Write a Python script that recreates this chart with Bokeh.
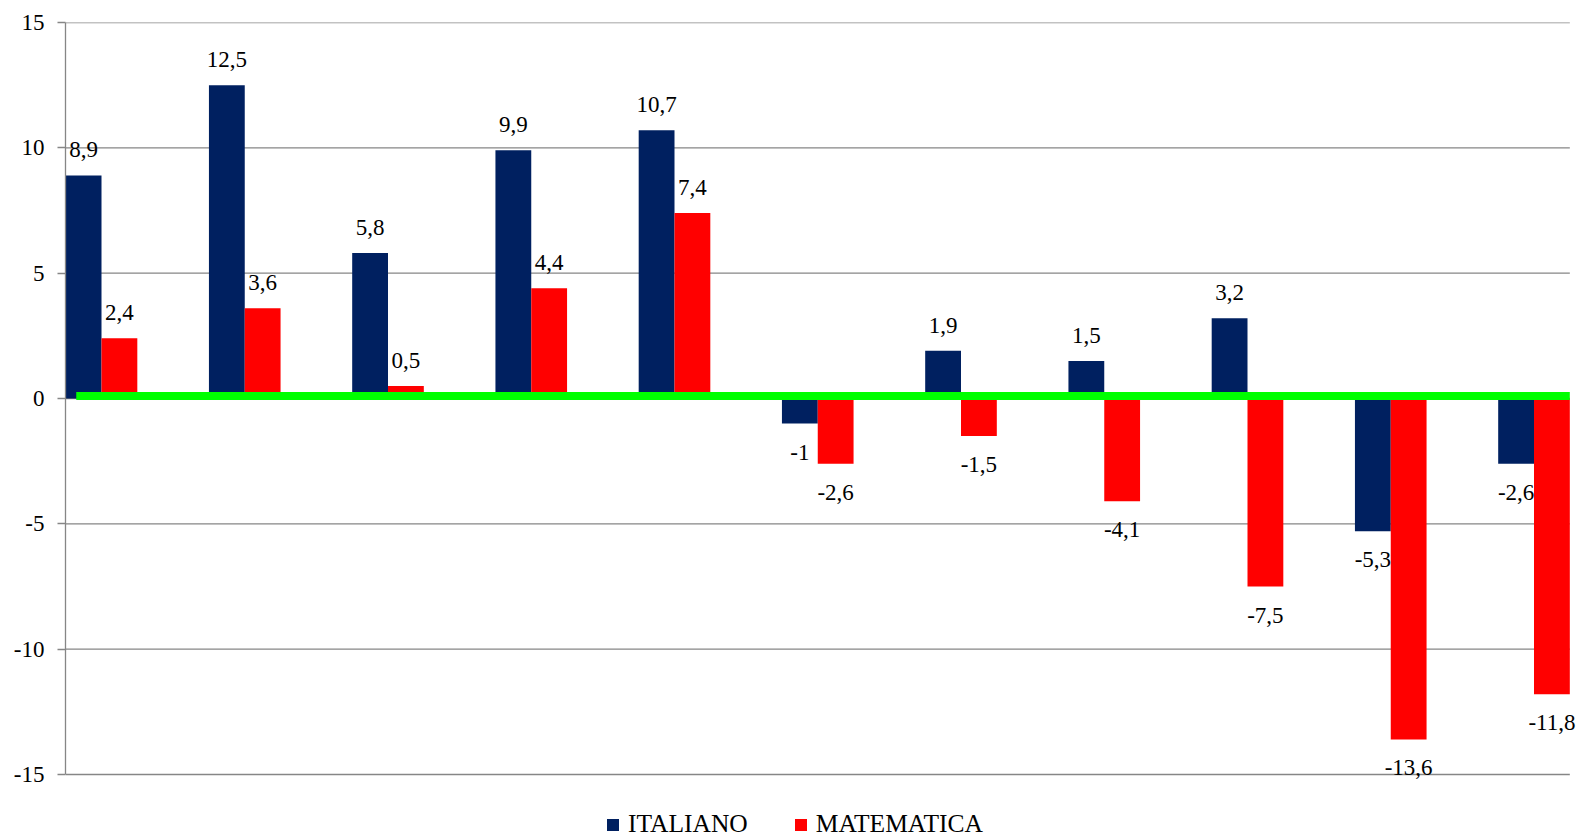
from bokeh.plotting import figure
from bokeh.models import ColumnDataSource, LabelSet, FixedTicker, Legend, LegendItem, Range1d
from bokeh.transform import dodge
from bokeh.embed import file_html
from bokeh.resources import INLINE

# ---- data ----
categories = list(range(11))
italiano = [8.9, 12.5, 5.8, 9.9, 10.7, -1.0, 1.9, 1.5, 3.2, -5.3, -2.6]
matematica = [2.4, 3.6, 0.5, 4.4, 7.4, -2.6, -1.5, -4.1, -7.5, -13.6, -11.8]
series_names = ["ITALIANO", "MATEMATICA"]
y_ticks = [-15, -10, -5, 0, 5, 10, 15]
zero_level = 0.1

BLUE = "#002060"
RED = "#FF0000"
GREEN = "#00FF00"
GRID = "#868686"
FONT = "Liberation Serif"

# ---- layout ----
W, H = 1585, 839
LEFT, TOP = 65, 22
FW, FH = W - LEFT, H - TOP
PX_PER_CAT = 143.25
PX_PER_UNIT = 752 / 30.0
x_start = -36 / PX_PER_CAT
x_end = x_start + FW / PX_PER_CAT
y_end = y_ticks[-1]
y_start = y_end - FH / PX_PER_UNIT


def fmt(v):
    return f"{v:g}".replace(".", ",")


def make_source(vals):
    return ColumnDataSource(dict(
        x=categories,
        top=vals,
        label=[fmt(v) for v in vals],
        off=[18 if v >= 0 else -36 for v in vals],
    ))


src_it = make_source(italiano)
src_ma = make_source(matematica)

p = figure(
    frame_width=FW, frame_height=FH,
    min_border_left=LEFT, min_border_right=0, min_border_top=TOP, min_border_bottom=0,
    x_range=Range1d(x_start, x_end), y_range=Range1d(y_start, y_end),
    output_backend="svg", toolbar_location=None,
)
p.outline_line_color = None
p.background_fill_color = "white"
p.border_fill_color = "white"

bar_w = 0.25
x_right = categories[-1] + bar_w

# horizontal grid lines (ending at the last bar)
p.segment(x0=x_start, x1=x_right, y0=y_ticks, y1=y_ticks, line_color=GRID, line_width=1.3)

r_it = p.vbar(x=dodge("x", -bar_w / 2), top="top", bottom=0, width=bar_w, source=src_it,
              fill_color=BLUE, line_color=None)
r_ma = p.vbar(x=dodge("x", bar_w / 2), top="top", bottom=0, width=bar_w, source=src_ma,
              fill_color=RED, line_color=None)

# green zero line
p.segment(x0=[x_start + 0.075], x1=[x_right], y0=[zero_level], y1=[zero_level],
          line_color=GREEN, line_width=8)

for src, dx in ((src_it, -bar_w / 2), (src_ma, bar_w / 2)):
    p.add_layout(LabelSet(
        x=dodge("x", dx), y="top", text="label", y_offset="off", source=src,
        text_align="center", text_baseline="alphabetic",
        text_font=FONT, text_font_size="23px", text_color="black",
    ))

# axes & grid
p.xaxis.visible = False
p.xgrid.visible = False
p.ygrid.visible = False
p.yaxis.ticker = FixedTicker(ticks=y_ticks)
p.yaxis.bounds = (y_ticks[0], y_ticks[-1])
p.yaxis.major_label_overrides = {t: str(t) for t in y_ticks}
p.yaxis.axis_line_color = GRID
p.yaxis.axis_line_width = 1.3
p.yaxis.major_tick_line_color = GRID
p.yaxis.major_tick_line_width = 1.3
p.yaxis.major_tick_out = 8
p.yaxis.major_tick_in = 0
p.yaxis.minor_tick_line_color = None
p.yaxis.major_label_text_font = FONT
p.yaxis.major_label_text_font_size = "23px"
p.yaxis.major_label_text_color = "black"
p.yaxis.major_label_standoff = 13

legend = Legend(
    items=[LegendItem(label=series_names[0], renderers=[r_it]),
           LegendItem(label=series_names[1], renderers=[r_ma])],
    orientation="horizontal", location=(540, 0),
    glyph_width=15, glyph_height=15, label_standoff=8, spacing=45,
    label_text_font=FONT, label_text_font_size="25.5px", label_text_color="black",
    label_height=24, padding=0, margin=0,
    border_line_color=None, background_fill_alpha=0,
)
p.add_layout(legend, "center")

open("out.html", "w").write(file_html(p, INLINE))
